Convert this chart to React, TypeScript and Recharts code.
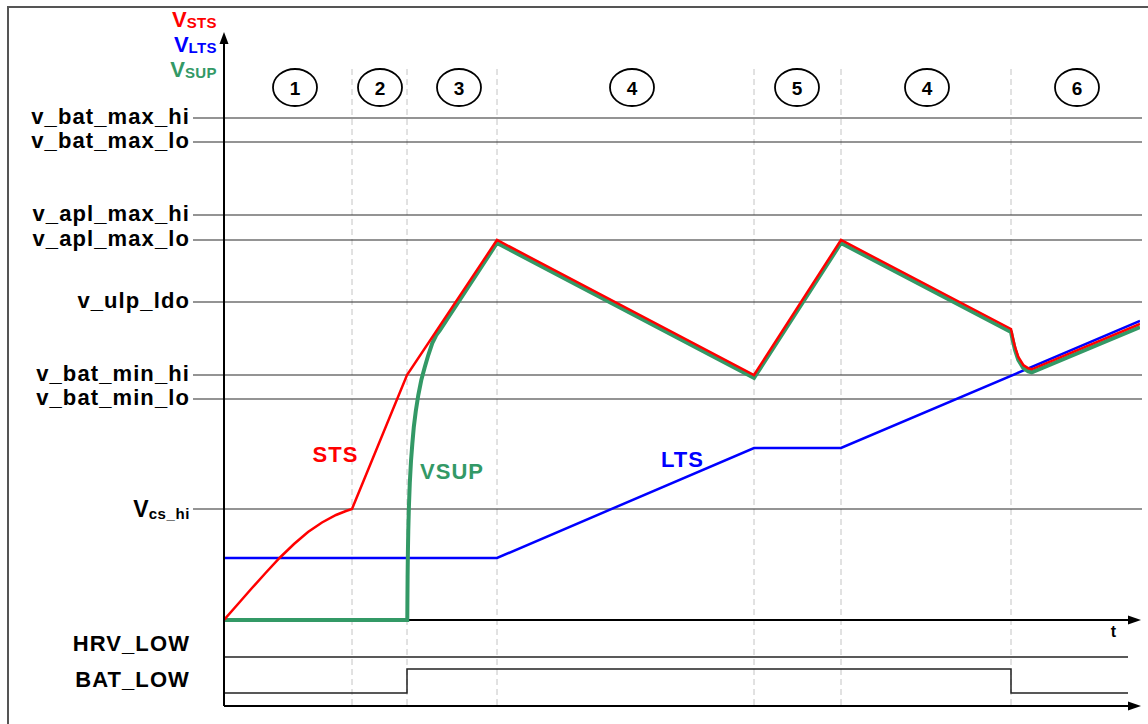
import React from 'react';
import { LineChart, Line, XAxis, YAxis, ReferenceLine, ReferenceDot } from 'recharts';

const FONT = '"Liberation Sans", Arial, Helvetica, sans-serif';

// time runs 0..tMax, voltage in arbitrary units
const tMax = 91.6;
const vMin = -8.6;
const vMax = 58.5;

const levelNames = ['v_bat_max_hi', 'v_bat_max_lo', 'v_apl_max_hi', 'v_apl_max_lo', 'v_ulp_ldo', 'v_bat_min_hi', 'v_bat_min_lo', 'Vcs_hi'];
const levelValues = [50.2, 47.8, 40.5, 38.0, 31.8, 24.5, 22.1, 11.1];

const signalNames = ['HRV_LOW', 'BAT_LOW'];
const signalLabelValues = [-2.5, -6.1];

const phaseLabels = ['1', '2', '3', '4', '5', '4', '6'];
const phaseCenters = [7.1, 15.6, 23.5, 40.8, 57.3, 70.3, 85.3];
const phaseBounds = [12.8, 18.3, 27.3, 53.0, 61.7, 78.7];

const stsPoints = [
  [0, 0], [1.4, 1.6], [2.8, 3.2], [4.2, 4.75], [5.6, 6.25], [7.0, 7.6], [8.4, 8.8], [9.8, 9.75],
  [11.2, 10.5], [12.2, 10.9], [12.8, 11.1],
  [18.3, 24.5], [27.3, 38.0], [53.0, 24.5], [61.7, 38.0], [78.7, 29.1],
  [78.87, 28.3], [79.1, 27.3], [79.43, 26.3], [79.93, 25.5], [80.43, 25.17], [80.77, 25.07], [91.6, 29.6],
];
const vsupPoints = [
  [0, 0], [18.33, 0], [18.34, 1.7], [18.36, 4.3], [18.39, 6.8], [18.43, 9.0], [18.49, 11.3], [18.58, 13.7],
  [18.7, 15.9], [18.83, 17.6], [18.98, 19.3], [19.18, 20.9], [19.43, 22.5], [19.73, 24.0], [20.08, 25.3],
  [20.43, 26.5], [20.83, 27.7], [21.23, 28.5], [21.6, 29.0], [27.3, 37.7], [53.0, 24.2], [61.7, 37.7],
  [78.7, 28.8], [78.87, 28.0], [79.1, 27.0], [79.43, 26.0], [79.93, 25.2], [80.43, 24.87], [80.77, 24.77], [91.6, 29.3],
];
const ltsPoints = [[0, 6.2], [27.3, 6.2], [53.0, 17.2], [61.7, 17.2], [91.6, 29.9]];
const batLowPoints = [[0, -7.3], [18.3, -7.3], [18.3, -4.9], [78.7, -4.9], [78.7, -7.3], [90.4, -7.3]];
const hrvLowPoints = [[0, -3.7], [90.4, -3.7]];

const curveLabels = [
  { text: 'STS', t: 11.15, v: 15.8, color: '#ff0000' },
  { text: 'VSUP', t: 22.8, v: 14.1, color: '#339966' },
  { text: 'LTS', t: 45.85, v: 15.3, color: '#0000ff' },
];

const toData = (pts: number[][]) => pts.map(([t, v]) => ({ t, v }));

function LevelTick(props: any) {
  const { x, y, payload } = props;
  const val = payload.value;
  let name = '';
  const li = levelValues.indexOf(val);
  if (li >= 0) name = levelNames[li];
  const si = signalLabelValues.indexOf(val);
  if (si >= 0) name = signalNames[si];
  if (name === 'Vcs_hi') {
    return (
      <text x={x} y={y + 8} textAnchor="end" fontFamily={FONT} fontWeight="bold" fill="#000">
        <tspan fontSize={23}>V</tspan>
        <tspan fontSize={15} dy={2} letterSpacing={0.6}>cs_hi</tspan>
      </text>
    );
  }
  return (
    <text x={x} y={y + 6} textAnchor="end" fontFamily={FONT} fontWeight="bold" fontSize={22} letterSpacing={1.1} fill="#000">
      {name}
    </text>
  );
}

const yAxisHead = (p: any) => {
  const { cx, cy } = p;
  const sub = (label: string, color: string, base: number) => (
    <text x={cx - 7} y={base} textAnchor="end" fontFamily={FONT} fontWeight="bold" fill={color}>
      <tspan fontSize={22}>V</tspan>
      <tspan fontSize={15} dy={1} letterSpacing={0.4}>{label}</tspan>
    </text>
  );
  return (
    <g>
      <polygon points={`${cx},${cy - 3} ${cx - 4.5},${cy + 9} ${cx + 4.5},${cy + 9}`} fill="#000" />
      {sub('STS', '#ff0000', cy - 8)}
      {sub('LTS', '#0000ff', cy + 17)}
      {sub('SUP', '#339966', cy + 42)}
    </g>
  );
};

const rightArrow = (p: any) => {
  const { cx, cy } = p;
  return <polygon points={`${cx + 1},${cy} ${cx - 12},${cy - 4.5} ${cx - 12},${cy + 4.5}`} fill="#000" />;
};

export default function App() {
  return (
    <div style={{ position: 'absolute', left: 0, top: 0, width: 1148, height: 724, overflow: 'hidden', background: '#fff' }}>
      <div style={{ position: 'absolute', left: 7, top: 6, width: 1200, height: 800, border: '2px solid #555' }} />
      <div style={{ position: 'absolute', left: 0, top: 0 }}>
        <LineChart width={1148} height={724} margin={{ top: 35, right: 8, bottom: 18, left: 0 }}>
          <XAxis type="number" dataKey="t" domain={[0, tMax]} hide allowDataOverflow />
          <YAxis
            type="number"
            dataKey="v"
            domain={[vMin, vMax]}
            width={224}
            ticks={[...levelValues, ...signalLabelValues]}
            interval={0}
            tick={<LevelTick />}
            tickLine={false}
            tickSize={0}
            tickMargin={34}
            axisLine={{ stroke: '#000', strokeWidth: 2 }}
            allowDataOverflow
          />
          {phaseBounds.map((t, i) => (
            <ReferenceLine
              key={'b' + i}
              segment={[{ x: t, y: 55.1 }, { x: t, y: vMin }]}
              stroke="#c4c4c4"
              strokeDasharray="6 4"
              strokeWidth={1}
              ifOverflow="visible"
            />
          ))}
          {levelValues.map((v, i) => (
            <ReferenceLine
              key={'l' + i}
              segment={[{ x: -3.1, y: v }, { x: 91.8, y: v }]}
              stroke="#2a2a2a"
              strokeWidth={1.2}
              ifOverflow="visible"
            />
          ))}
          <ReferenceLine segment={[{ x: 0, y: 0 }, { x: 90.4, y: 0 }]} stroke="#000" strokeWidth={2} ifOverflow="visible" />
          <ReferenceLine segment={[{ x: 0, y: vMin }, { x: 90.4, y: vMin }]} stroke="#000" strokeWidth={2} ifOverflow="visible" />
          <ReferenceDot x={0} y={vMax} r={1} ifOverflow="visible" shape={yAxisHead} />
          <ReferenceDot x={tMax} y={0} r={1} ifOverflow="visible" shape={rightArrow} />
          <ReferenceDot x={tMax} y={vMin} r={1} ifOverflow="visible" shape={rightArrow} />
          <ReferenceDot
            x={88.95}
            y={-1.7}
            r={1}
            ifOverflow="visible"
            shape={(p: any) => (
              <text x={p.cx} y={p.cy} textAnchor="middle" fontFamily={FONT} fontWeight="bold" fontSize={16} fill="#000">t</text>
            )}
          />
          {phaseCenters.map((t, i) => (
            <ReferenceDot
              key={'p' + i}
              x={t}
              y={53.25}
              r={1}
              ifOverflow="visible"
              shape={(p: any) => (
                <g>
                  <ellipse cx={p.cx} cy={p.cy} rx={22} ry={18.5} fill="#fff" stroke="#000" strokeWidth={1.8} />
                  <text x={p.cx} y={p.cy + 7} textAnchor="middle" fontFamily={FONT} fontWeight="bold" fontSize={19} fill="#000">
                    {phaseLabels[i]}
                  </text>
                </g>
              )}
            />
          ))}
          <Line data={toData(hrvLowPoints)} dataKey="v" type="linear" stroke="#222" strokeWidth={1.5} dot={false} isAnimationActive={false} />
          <Line data={toData(batLowPoints)} dataKey="v" type="linear" stroke="#222" strokeWidth={1.5} dot={false} isAnimationActive={false} />
          <Line data={toData(ltsPoints)} dataKey="v" type="linear" stroke="#0000ff" strokeWidth={2.5} dot={false} isAnimationActive={false} />
          <Line data={toData(vsupPoints)} dataKey="v" type="linear" stroke="#339966" strokeWidth={4} dot={false} isAnimationActive={false} />
          <Line data={toData(stsPoints)} dataKey="v" type="linear" stroke="#ff0000" strokeWidth={2.5} dot={false} isAnimationActive={false} />
          {curveLabels.map((c, i) => (
            <ReferenceDot
              key={'c' + i}
              x={c.t}
              y={c.v}
              r={1}
              ifOverflow="visible"
              shape={(p: any) => (
                <text x={p.cx} y={p.cy} textAnchor="middle" fontFamily={FONT} fontWeight="bold" fontSize={22} letterSpacing={1} fill={c.color}>
                  {c.text}
                </text>
              )}
            />
          ))}
        </LineChart>
      </div>
    </div>
  );
}
